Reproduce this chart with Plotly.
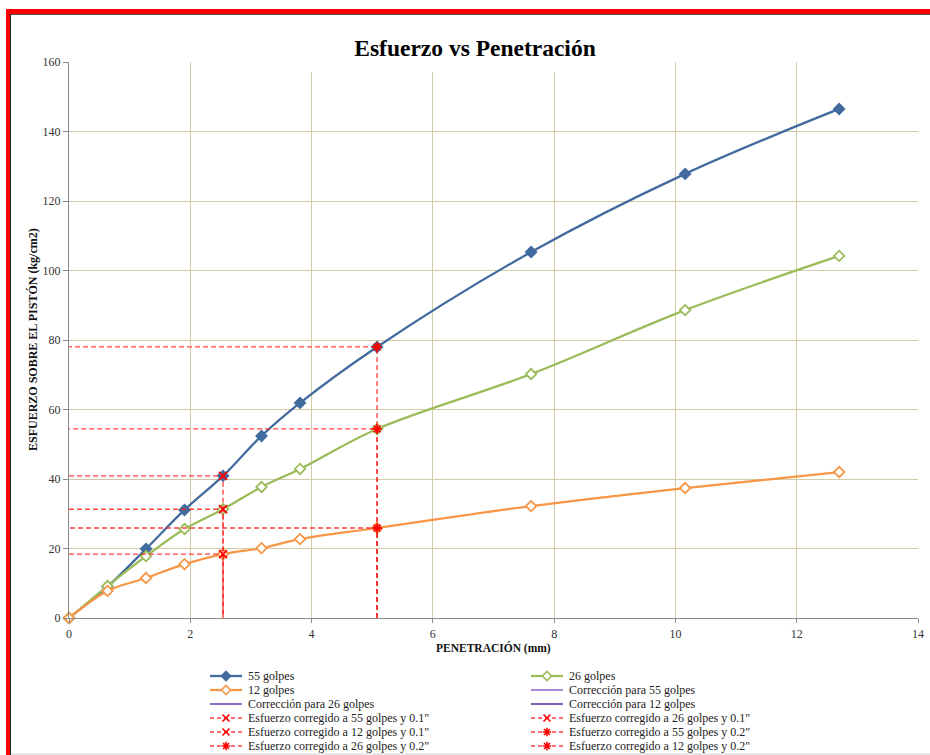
import plotly.graph_objects as go

# ---------------------------------------------------------------------------
# Datos del ensayo CBR: penetración (mm) y esfuerzo sobre el pistón (kg/cm2)
# ---------------------------------------------------------------------------
penetracion = [0, 0.635, 1.27, 1.905, 2.54, 3.175, 3.81, 5.08, 7.62, 10.16, 12.7]
golpes_55 = [0, 9.0, 19.9, 31.1, 40.9, 52.4, 61.9, 78.0, 105.3, 127.8, 146.5]
golpes_26 = [0, 9.2, 17.8, 25.6, 31.3, 37.7, 42.9, 54.4, 70.2, 88.6, 104.2]
golpes_12 = [0, 7.8, 11.5, 15.5, 18.4, 20.1, 22.7, 25.9, 32.2, 37.4, 42.0]

# Series de corrección (sin puntos registrados)
correccion_55 = []
correccion_26 = []
correccion_12 = []

# Penetraciones de referencia: 0.1" y 0.2"
pen_01 = 2.54
pen_02 = 5.08

x_ticks = [0, 2, 4, 6, 8, 10, 12, 14]
y_ticks = [0, 20, 40, 60, 80, 100, 120, 140, 160]

# ---------------------------------------------------------------------------
W, H = 930, 755
SERIF = "Times New Roman, Liberation Serif, serif"
AZUL = "#416a9e"
VERDE = "#9bbb59"
NARANJA = "#f79646"
ROJO = "rgba(255,30,30,0.85)"
GRID = "#d3caa6"
EJE = "#8a8a8a"

# plot area in screen pixels
PX_L, PX_R, PX_T, PX_B = 69, 918, 62, 618


def px(x):
    return x / W


def py(y):
    return 1 - y / H


fig = go.Figure()

curvas = [
    ("55 golpes", golpes_55, AZUL, AZUL, 8),
    ("26 golpes", golpes_26, VERDE, "white", 8),
    ("12 golpes", golpes_12, NARANJA, "white", 8),
]
for nombre, valores, color, relleno, tam in curvas:
    fig.add_trace(go.Scatter(
        x=penetracion, y=valores, mode="lines+markers", name=nombre,
        line=dict(color=color, width=2.25, shape="spline", smoothing=1),
        marker=dict(symbol="diamond", size=tam, color=relleno,
                    line=dict(color=color, width=1.8)),
        cliponaxis=False, showlegend=False,
    ))

for nombre, valores, color in [("Corrección para 55 golpes", correccion_55, "#a98bd3"),
                               ("Corrección para 26 golpes", correccion_26, "#8d6fc2"),
                               ("Corrección para 12 golpes", correccion_12, "#7d5fb4")]:
    fig.add_trace(go.Scatter(x=[p[0] for p in valores], y=[p[1] for p in valores],
                             mode="lines", name=nombre, line=dict(color=color, width=2),
                             showlegend=False))


def valor_en(serie, x):
    return serie[penetracion.index(x)]


# Esfuerzos corregidos: guías discontinuas hasta ambos ejes
corregidos = [
    ("55", golpes_55, pen_01, "x-thin-open"),
    ("26", golpes_26, pen_01, "x-thin-open"),
    ("12", golpes_12, pen_01, "x-thin-open"),
    ("55", golpes_55, pen_02, "asterisk-open"),
    ("26", golpes_26, pen_02, "asterisk-open"),
    ("12", golpes_12, pen_02, "asterisk-open"),
]
for g, serie, xp, simbolo in corregidos:
    yv = valor_en(serie, xp)
    if xp == pen_02:
        xs, ys = [xp, xp, 0], [0, yv, yv]
    else:
        xs, ys = [0, xp, xp], [yv, yv, 0]
    fig.add_trace(go.Scatter(x=xs, y=ys, mode="lines",
                             line=dict(color=ROJO, width=1.3, dash="5px,3px"),
                             showlegend=False, cliponaxis=False))
    fig.add_trace(go.Scatter(x=[xp], y=[yv], mode="markers",
                             marker=dict(symbol=simbolo, size=8, color="red",
                                         line=dict(color="red", width=1.8)),
                             showlegend=False, cliponaxis=False))

# ---------------------------------------------------------------------------
# Leyenda en dos columnas (eje auxiliar en píxeles de pantalla)
# ---------------------------------------------------------------------------
leyenda = [
    ("55 golpes", dict(kind="curve", color=AZUL, fill=AZUL)),
    ("26 golpes", dict(kind="curve", color=VERDE, fill="white")),
    ("12 golpes", dict(kind="curve", color=NARANJA, fill="white")),
    ("Corrección para 55 golpes", dict(kind="plain", color="#a98bd3")),
    ("Corrección para 26 golpes", dict(kind="plain", color="#8d6fc2")),
    ("Corrección para 12 golpes", dict(kind="plain", color="#7d5fb4")),
    ('Esfuerzo corregido a 55 golpes y 0.1"', dict(kind="red", sym="x-thin-open")),
    ('Esfuerzo corregido a 26 golpes y 0.1"', dict(kind="red", sym="x-thin-open")),
    ('Esfuerzo corregido a 12 golpes y 0.1"', dict(kind="red", sym="x-thin-open")),
    ('Esfuerzo corregido a 55 golpes y 0.2"', dict(kind="red", sym="asterisk-open")),
    ('Esfuerzo corregido a 26 golpes y 0.2"', dict(kind="red", sym="asterisk-open")),
    ('Esfuerzo corregido a 12 golpes y 0.2"', dict(kind="red", sym="asterisk-open")),
]
LEG_TOP = 655
COL_X = [210, 531]
ROW_Y0, ROW_DY = 676, 14
SAMPLE_W = 32

annotations = []
for i, (texto, est) in enumerate(leyenda):
    fila, col = divmod(i, 2)
    x0 = COL_X[col]
    yc = ROW_Y0 + fila * ROW_DY
    x1 = x0 + SAMPLE_W
    if est["kind"] == "curve":
        fig.add_trace(go.Scatter(x=[x0, x1], y=[yc, yc], mode="lines", xaxis="x2", yaxis="y2",
                                 line=dict(color=est["color"], width=2.25), showlegend=False))
        fig.add_trace(go.Scatter(x=[(x0 + x1) / 2], y=[yc], mode="markers", xaxis="x2", yaxis="y2",
                                 marker=dict(symbol="diamond", size=7, color=est["fill"],
                                             line=dict(color=est["color"], width=1.6)),
                                 showlegend=False))
    elif est["kind"] == "plain":
        fig.add_trace(go.Scatter(x=[x0, x1], y=[yc, yc], mode="lines", xaxis="x2", yaxis="y2",
                                 line=dict(color=est["color"], width=2), showlegend=False))
    else:
        fig.add_trace(go.Scatter(x=[x0, x1], y=[yc, yc], mode="lines", xaxis="x2", yaxis="y2",
                                 line=dict(color=ROJO, width=1.3, dash="4px,3px"), showlegend=False))
        fig.add_trace(go.Scatter(x=[(x0 + x1) / 2], y=[yc], mode="markers", xaxis="x2", yaxis="y2",
                                 marker=dict(symbol=est["sym"], size=7, color="red",
                                             line=dict(color="red", width=1.6)),
                                 showlegend=False))
    annotations.append(dict(
        x=x1 + 4, y=yc, xref="x2", yref="y2", text=texto, showarrow=False,
        xanchor="left", yanchor="middle", font=dict(family=SERIF, size=12, color="#222"),
    ))

# Títulos de ejes
annotations.append(dict(
    x=px((PX_L + PX_R) / 2), y=py(648), xref="paper", yref="paper",
    text="PENETRACIÓN (mm)", showarrow=False, xanchor="center", yanchor="middle",
    font=dict(family=SERIF, size=11.5, color="#111", weight="bold"),
))
annotations.append(dict(
    x=px(33), y=py((PX_T + PX_B) / 2), xref="paper", yref="paper",
    text="ESFUERZO SOBRE EL PISTÓN (kg/cm2)", showarrow=False, textangle=-90,
    xanchor="center", yanchor="middle",
    font=dict(family=SERIF, size=12, color="#111", weight="bold"),
))

# Marco y fondo del título
shapes = [
    dict(type="rect", xref="paper", yref="paper", x0=px(278), x1=px(674), y0=py(72), y1=py(48),
         fillcolor="white", line=dict(width=0), layer="above"),
    dict(type="rect", xref="paper", yref="paper", x0=px(6), x1=1, y0=py(14), y1=py(9),
         fillcolor="red", line=dict(width=0), layer="above"),
    dict(type="rect", xref="paper", yref="paper", x0=px(6), x1=px(10), y0=0, y1=py(9),
         fillcolor="red", line=dict(width=0), layer="above"),
    dict(type="line", xref="paper", yref="paper", x0=px(10.5), x1=px(10.5), y0=0, y1=py(14),
         line=dict(color="#222", width=1), layer="above"),
    dict(type="line", xref="paper", yref="paper", x0=px(10.5), x1=1, y0=py(14.5), y1=py(14.5),
         line=dict(color="#555", width=1), layer="above"),
    dict(type="line", xref="paper", yref="paper", x0=px(11), x1=1, y0=py(754), y1=py(754),
         line=dict(color="#cfcfcf", width=1), layer="above"),
]

fig.update_layout(
    width=W, height=H,
    margin=dict(l=0, r=0, t=0, b=0, pad=0, autoexpand=False),
    paper_bgcolor="white",
    plot_bgcolor="rgba(0,0,0,0)",
    showlegend=False,
    title=dict(text="Esfuerzo vs Penetración", x=px(475), y=py(48), xref="paper", yref="paper",
               xanchor="center", yanchor="middle",
               font=dict(family=SERIF, size=23.5, color="black", weight="bold")),
    xaxis=dict(
        domain=[px(PX_L), px(PX_R)], range=[0, 14], tickvals=x_ticks,
        showgrid=True, gridcolor=GRID, gridwidth=1.3, zeroline=False,
        showline=True, linecolor=EJE, linewidth=1.3,
        ticks="outside", ticklen=4, tickcolor=EJE, automargin=False,
        tickfont=dict(family=SERIF, size=12, color="#333"), fixedrange=True,
    ),
    yaxis=dict(
        domain=[py(PX_B), py(PX_T)], range=[0, 160], tickvals=y_ticks,
        showgrid=True, gridcolor=GRID, gridwidth=1.3, zeroline=False,
        showline=True, linecolor=EJE, linewidth=1.3,
        ticks="outside", ticklen=5, tickcolor=EJE, automargin=False,
        tickfont=dict(family=SERIF, size=12, color="#333"), fixedrange=True,
    ),
    xaxis2=dict(domain=[0, 1], range=[0, W], visible=False, fixedrange=True, anchor="y2"),
    yaxis2=dict(domain=[0, py(LEG_TOP)], range=[H, LEG_TOP], visible=False, fixedrange=True,
                anchor="x2"),
    annotations=annotations,
    shapes=shapes,
)

fig.write_html("out.html")
